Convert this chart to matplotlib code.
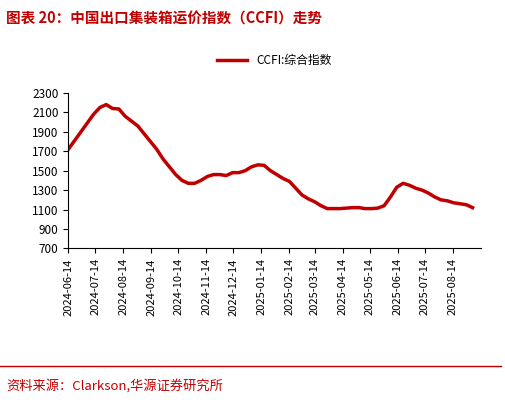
import matplotlib
matplotlib.use("Agg")
import matplotlib.pyplot as plt
import matplotlib.dates as mdates
import pandas as pd

plt.rcParams['font.family'] = ['Noto Sans CJK SC', 'DejaVu Sans']

values = [1720, 1810, 1900, 1990, 2080, 2150, 2180, 2140, 2135, 2060, 2010, 1960,
          1880, 1800, 1720, 1620, 1540, 1460, 1400, 1370, 1370, 1400, 1440, 1460,
          1460, 1450, 1480, 1480, 1500, 1540, 1560, 1555, 1500, 1460, 1420, 1390,
          1320, 1250, 1210, 1180, 1140, 1110, 1110, 1110, 1115, 1120, 1120, 1110,
          1110, 1115, 1140, 1230, 1330, 1370, 1350, 1320, 1300, 1270, 1230, 1200,
          1190, 1170, 1160, 1150, 1120]
dates = pd.date_range("2024-06-14", periods=len(values), freq="7D")
tick_labels = ["2024-06-14", "2024-07-14", "2024-08-14", "2024-09-14", "2024-10-14",
               "2024-11-14", "2024-12-14", "2025-01-14", "2025-02-14", "2025-03-14",
               "2025-04-14", "2025-05-14", "2025-06-14", "2025-07-14", "2025-08-14"]
yticks = list(range(700, 2301, 200))

fig = plt.figure(figsize=(5.06, 4.04), dpi=100)
ax = fig.add_axes([0.135, 0.385, 0.815, 0.385])
ax.plot(dates, values, color="#C00000", lw=2.5, label="CCFI:综合指数")
ax.set_ylim(700, 2300)
ax.set_yticks(yticks)
ax.set_xlim(dates[0], pd.Timestamp("2025-09-14"))
ax.set_xticks(pd.to_datetime(tick_labels))
ax.set_xticklabels(tick_labels, rotation=90, fontsize=8)
ax.tick_params(axis='y', labelsize=8.5)
for s in ["top", "right"]:
    ax.spines[s].set_visible(False)
ax.legend(loc="upper center", bbox_to_anchor=(0.5, 1.32), frameon=False, fontsize=8.5,
          handlelength=2.5)

fig.text(0.012, 0.955, "图表 20：中国出口集装箱运价指数（CCFI）走势", color="#C00000",
         fontsize=10.5, fontweight="bold", va="center")
fig.add_artist(plt.Line2D([0.0, 0.99], [0.095, 0.095], color="#C00000", lw=1.0))
fig.text(0.012, 0.045, "资料来源：Clarkson,华源证券研究所", color="#C00000",
         fontsize=9.5, va="center")
fig.savefig("out.png", dpi=100)
